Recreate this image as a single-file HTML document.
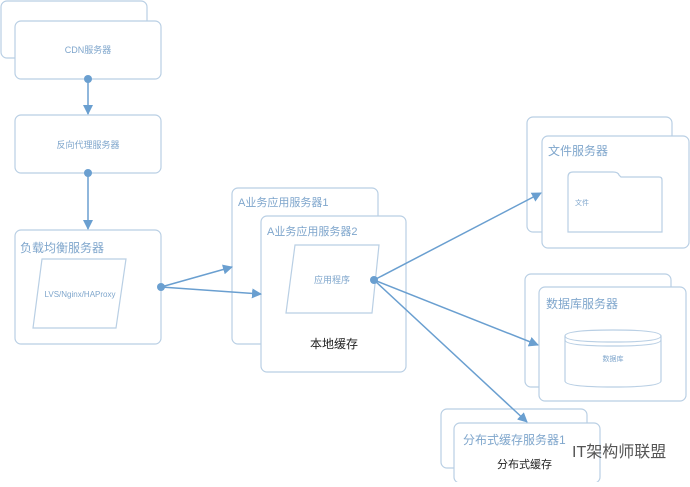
<!DOCTYPE html>
<html><head><meta charset="utf-8"><style>
body{margin:0;background:#fff;width:690px;height:482px;overflow:hidden}
svg text{font-family:"Liberation Sans","Noto Sans CJK SC",sans-serif}
</style></head><body>
<svg width="690" height="482" viewBox="0 0 690 482" xmlns="http://www.w3.org/2000/svg">
<defs><marker id="a" markerWidth="10" markerHeight="10" refX="9" refY="5" orient="auto" markerUnits="userSpaceOnUse"><path d="M0,0 L10,5 L0,10 z" fill="#6a9fd0"/></marker></defs>
<g fill="#fff" stroke="#b9cfe4" stroke-width="1.2">
<rect x="1" y="1" width="146" height="57" rx="6"/>
<rect x="15" y="21" width="146" height="58" rx="6"/>
<rect x="15" y="115" width="146" height="58" rx="6"/>
<rect x="15" y="230" width="146" height="114" rx="6"/>
<rect x="232" y="188" width="146" height="156" rx="6"/>
<rect x="261" y="216" width="145" height="156" rx="6"/>
<rect x="527" y="117" width="145" height="115" rx="6"/>
<rect x="542" y="136" width="147" height="112" rx="6"/>
<rect x="525" y="274" width="146" height="113" rx="6"/>
<rect x="539" y="287" width="147" height="114" rx="6"/>
<rect x="441" y="409" width="146" height="59" rx="6"/>
<rect x="454" y="423" width="146" height="60" rx="6"/>
<polygon points="42,259 126,259 116,328 33,328"/>
<polygon points="295,245 379,245 372,313 286,313"/>
<path d="M568,232 V177 q0,-5 5,-5 h40 q5,0 6,3 l2,2 h38 q3,0 3,3 V232 z"/>
<path d="M565,336 q0,-6 48,-6 q48,0 48,6 V381 q0,6 -48,6 q-48,0 -48,-6 z"/>
<path d="M565,336 q0,6 48,6 q48,0 48,-6 M565,340 q0,6 48,6 q48,0 48,-6" fill="none"/>
</g>
<g stroke="#6a9fd0" stroke-width="1.5" fill="none" marker-end="url(#a)">
<line x1="88" y1="79" x2="88" y2="114"/>
<line x1="88" y1="173" x2="88" y2="229"/>
<line x1="161" y1="287" x2="232" y2="267"/>
<line x1="161" y1="287" x2="261" y2="294"/>
<line x1="374" y1="280" x2="541" y2="193"/>
<line x1="374" y1="280" x2="538" y2="345"/>
<line x1="374" y1="280" x2="527" y2="422"/>
</g>
<g fill="#6a9fd0"><circle cx="88" cy="79" r="4"/><circle cx="88" cy="173" r="4"/><circle cx="161" cy="287" r="4"/><circle cx="374" cy="280" r="4"/></g>
<g fill="#7fa6cc">
<text x="88" y="53" font-size="9" text-anchor="middle">CDN服务器</text>
<text x="88" y="148" font-size="9" text-anchor="middle">反向代理服务器</text>
<text x="20" y="252" font-size="12">负载均衡服务器</text>
<text x="80" y="297" font-size="8" text-anchor="middle">LVS/Nginx/HAProxy</text>
<text x="238" y="206" font-size="11">A业务应用服务器1</text>
<text x="267" y="235" font-size="11">A业务应用服务器2</text>
<text x="332" y="283" font-size="9" text-anchor="middle">应用程序</text>
<text x="548" y="155" font-size="12">文件服务器</text>
<text x="575" y="205" font-size="7">文件</text>
<text x="546" y="308" font-size="12">数据库服务器</text>
<text x="613" y="361" font-size="7" text-anchor="middle">数据库</text>
<text x="463" y="444" font-size="12">分布式缓存服务器1</text>
</g>
<text x="334" y="348" font-size="12" text-anchor="middle" fill="#222">本地缓存</text>
<text x="497" y="468" font-size="11" fill="#222">分布式缓存</text>
<text x="572" y="457" font-size="16" fill="#555">IT架构师联盟</text>
</svg>
</body></html>
